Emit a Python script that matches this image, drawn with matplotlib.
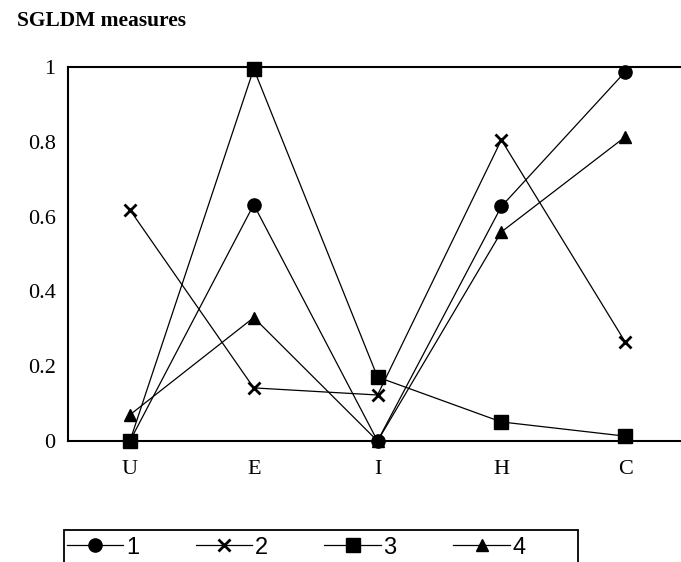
import matplotlib.pyplot as plt
import numpy as np
from matplotlib.patches import Rectangle

categories = ['U', 'E', 'I', 'H', 'C']
s1 = [0.0, 0.632, 0.0, 0.627, 0.987]
s2 = [0.618, 0.142, 0.123, 0.805, 0.265]
s3 = [0.0, 0.995, 0.171, 0.051, 0.013]
s4 = [0.07, 0.33, 0.0, 0.559, 0.813]
labels = ['1', '2', '3', '4']

fig = plt.figure(figsize=(6.81, 5.62), dpi=100)
ax = fig.add_axes([0.0999, 0.2153, 0.909, 0.6655])

x = np.arange(len(categories))
ax.plot(x, s1, 'k-', marker='o', ms=9.5, lw=0.9, label=labels[0], clip_on=False)
ax.plot(x, s2, 'k-', marker='x', ms=9, mew=2, lw=0.9, label=labels[1], clip_on=False)
ax.plot(x, s3, 'k-', marker='s', ms=9.5, lw=0.9, label=labels[2], clip_on=False)
ax.plot(x, s4, 'k-', marker='^', ms=8.5, lw=0.9, label=labels[3], clip_on=False)

ax.set_xlim(-0.5, 4.5)
ax.set_ylim(0, 1)
ax.set_xticks(x)
ax.set_xticklabels(categories)
ax.set_yticks([0, 0.2, 0.4, 0.6, 0.8, 1])
ax.set_yticklabels(['0', '0.2', '0.4', '0.6', '0.8', '1'])
ax.tick_params(length=0, labelsize=16)
ax.tick_params(axis='x', pad=14)
ax.tick_params(axis='y', pad=9)
for lab in ax.get_xticklabels() + ax.get_yticklabels():
    lab.set_family('Liberation Serif')
for sp in ax.spines.values():
    sp.set_linewidth(1.5)

fig.text(0.025, 0.962, 'SGLDM measures', family='Liberation Serif',
         weight='bold', fontsize=15.5, va='center')

# legend box runs off the bottom of the figure
fig.patches.append(Rectangle((64 / 681, -0.05), 514 / 681, 32 / 562 + 0.05,
                             transform=fig.transFigure, fill=False,
                             edgecolor='black', lw=1.3))
leg = ax.legend(loc='upper left', ncol=4,
                bbox_to_anchor=(62 / 681, 30 / 562),
                bbox_transform=fig.transFigure, borderaxespad=0,
                frameon=False,
                prop={'family': 'Liberation Sans', 'size': 17},
                handlelength=2.4, handletextpad=0.1, columnspacing=2.4,
                borderpad=0.2)

plt.savefig('out.png')
